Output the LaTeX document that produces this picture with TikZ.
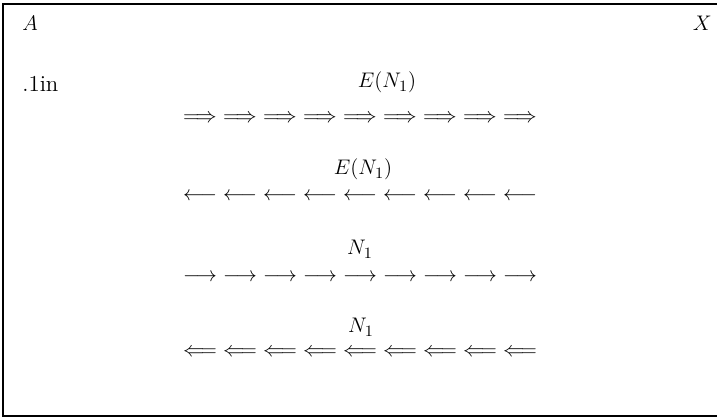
\documentclass[tikz,border=0pt]{standalone}
\usepackage{amsmath}
\usepackage{tikz}
\begin{document}
\begin{tikzpicture}[x=0.02cm, y=-0.02cm,
		every node/.style={font=\fontsize{13}{15}\selectfont, inner sep=0pt},
		lbl/.style={anchor=base},
		arr/.style={anchor=base, font=\fontsize{11.5}{14}\selectfont},
		frame/.style={line width=0.9pt}]
	\useasboundingbox (0,0) rectangle (717,418);
	\draw[frame] (717,4) -- (3,4) -- (3,416) -- (717,416);
	\node[anchor=base west] (a) at (22,31) {$A$};
	\node[anchor=base east] (x) at (712,31) {$X$};
	\node[anchor=base west] (lin) at (22,92) {.1in};
	% rows of arrows
	\foreach \i in {0,...,8} {
		\node[arr] (rr\i) at (200+40*\i,123) {$\Longrightarrow$};
		\node[arr] (la\i) at (200+40*\i,201) {$\longleftarrow$};
		\node[arr] (ra\i) at (200+40*\i,282) {$\longrightarrow$};
		\node[arr] (ll\i) at (200+40*\i,357) {$\Longleftarrow$};
	}
	\node[lbl] (e1) at (387,88) {$E(N_1)$};
	\node[lbl] (e2) at (363,175) {$E(N_1)$};
	\node[lbl] (n1) at (360,255) {$N_1$};
	\node[lbl] (n2) at (361,333) {$N_1$};
\end{tikzpicture}
\end{document}
